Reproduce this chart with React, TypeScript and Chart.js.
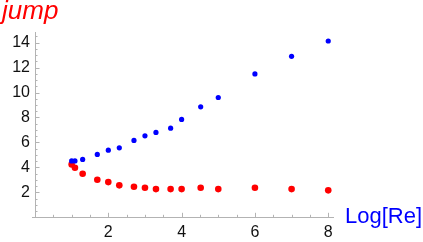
import React, { useEffect, useRef } from 'react';
import { Chart, registerables } from 'chart.js';

Chart.register(...registerables);

// Data
const logRe = [1.0, 1.09, 1.3, 1.7, 2.0, 2.3, 2.7, 3.0, 3.3, 3.7, 4.0, 4.52, 5.0, 6.0, 7.0, 8.0];
const jumpUpper = [4.52, 4.52, 4.64, 5.04, 5.38, 5.57, 6.16, 6.53, 6.8, 7.14, 7.84, 8.85, 9.6, 11.49, 12.9, 14.13];
const jumpLower = [4.24, 3.97, 3.49, 3.01, 2.82, 2.56, 2.45, 2.37, 2.26, 2.26, 2.26, 2.37, 2.26, 2.37, 2.26, 2.16];
const xTickValues = [2, 4, 6, 8];
const yTickValues = [2, 4, 6, 8, 10, 12, 14];
const xTitle = 'Log[Re]';
const yTitle = 'jump';

const AXIS_COLOR = '#b3b3b3';
const FONT = '"Liberation Sans", Arial, sans-serif';

const decorPlugin = {
  id: 'decor',
  afterDraw(chart: any) {
    const { ctx, chartArea, scales } = chart;
    const xs = scales.x;
    const ys = scales.y;
    ctx.save();
    ctx.strokeStyle = AXIS_COLOR;
    ctx.lineWidth = 1;
    // x ticks (inward, major every 2, minor every 0.5)
    for (let i = 1; i * 0.5 <= xs.max + 1e-9; i++) {
      const v = i * 0.5;
      const px = Math.round(xs.getPixelForValue(v)) + 0.5;
      const len = i % 4 === 0 ? 4.5 : 2.5;
      ctx.beginPath();
      ctx.moveTo(px, chartArea.bottom);
      ctx.lineTo(px, chartArea.bottom - len);
      ctx.stroke();
    }
    for (let i = 1; i * 0.5 <= ys.max + 1e-9; i++) {
      const v = i * 0.5;
      const py = Math.round(ys.getPixelForValue(v)) + 0.5;
      const len = i % 4 === 0 ? 4.5 : 2.5;
      ctx.beginPath();
      ctx.moveTo(chartArea.left, py);
      ctx.lineTo(chartArea.left + len, py);
      ctx.stroke();
    }
    // small extension of x axis left of origin
    ctx.beginPath();
    ctx.moveTo(chartArea.left - 3, Math.round(chartArea.bottom) + 0.5);
    ctx.lineTo(chartArea.left, Math.round(chartArea.bottom) + 0.5);
    ctx.stroke();

    // axis titles
    ctx.textBaseline = 'alphabetic';
    ctx.textAlign = 'left';
    ctx.fillStyle = '#ff0000';
    ctx.font = `italic 26px ${FONT}`;
    ctx.fillText(yTitle, chartArea.left - 33, 19);
    ctx.fillStyle = '#0000ff';
    ctx.font = `22px ${FONT}`;
    ctx.fillText(xTitle, chartArea.right + 12, chartArea.bottom + 5.5);
    ctx.restore();
  },
};

export default function App() {
  const ref = useRef<HTMLCanvasElement | null>(null);

  useEffect(() => {
    document.body.style.margin = '0';
    const canvas = ref.current;
    if (!canvas) return;
    Chart.defaults.font.family = FONT;
    const chart = new Chart(canvas, {
      type: 'scatter',
      data: {
        datasets: [
          {
            label: 'upper',
            data: logRe.map((x, i) => ({ x, y: jumpUpper[i] })),
            backgroundColor: '#0000ff',
            borderWidth: 0,
            pointRadius: 2.6,
            pointHoverRadius: 2.6,
          },
          {
            label: 'lower',
            data: logRe.map((x, i) => ({ x, y: jumpLower[i] })),
            backgroundColor: '#ff0000',
            borderWidth: 0,
            pointRadius: 3.3,
            pointHoverRadius: 3.3,
          },
        ],
      },
      options: {
        responsive: false,
        animation: false,
        devicePixelRatio: 1,
        layout: { padding: { top: 32, right: 90, left: 0, bottom: 0 } },
        plugins: {
          legend: { display: false },
          tooltip: { enabled: false },
          title: { display: false },
        },
        scales: {
          x: {
            type: 'linear',
            min: 0,
            max: 8.13,
            grid: { display: false, drawTicks: false },
            border: { display: true, color: AXIS_COLOR, width: 1 },
            afterBuildTicks: (scale: any) => {
              scale.ticks = xTickValues.map((v) => ({ value: v }));
            },
            afterFit: (scale: any) => {
              scale.height = 24.7;
            },
            ticks: {
              autoSkip: false,
              maxRotation: 0,
              padding: 6,
              color: '#111111',
              font: { size: 16, family: FONT },
              callback: (v: any) => String(v),
            },
          },
          y: {
            type: 'linear',
            min: 0,
            max: 14.85,
            grid: { display: false, drawTicks: false },
            border: { display: true, color: AXIS_COLOR, width: 1 },
            afterBuildTicks: (scale: any) => {
              scale.ticks = yTickValues.map((v) => ({ value: v }));
            },
            afterFit: (scale: any) => {
              scale.width = 35;
            },
            ticks: {
              autoSkip: false,
              padding: 5,
              color: '#111111',
              font: { size: 16, family: FONT },
              callback: (v: any) => String(v),
            },
          },
        },
      },
      plugins: [decorPlugin],
    });
    return () => chart.destroy();
  }, []);

  return (
    <div style={{ width: 423, height: 242, position: 'relative', background: '#fff' }}>
      <canvas ref={ref} width={423} height={242} style={{ display: 'block' }} />
    </div>
  );
}
